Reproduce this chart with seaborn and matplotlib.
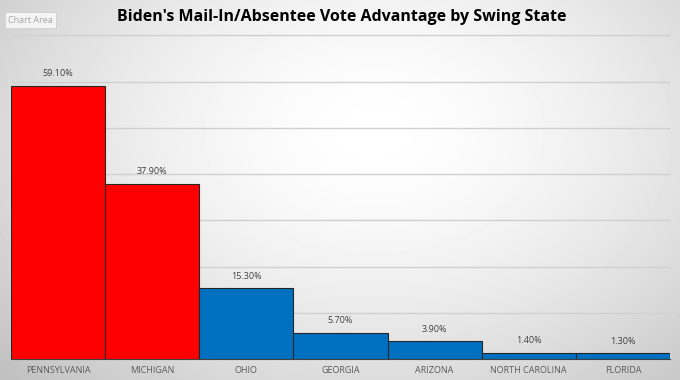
import numpy as np
import pandas as pd
import matplotlib
matplotlib.use("Agg")
import matplotlib.pyplot as plt
import seaborn as sns

states = ["PENNSYLVANIA", "MICHIGAN", "OHIO", "GEORGIA", "ARIZONA", "NORTH CAROLINA", "FLORIDA"]
advantage = [59.1, 37.9, 15.3, 5.7, 3.9, 1.4, 1.3]
bar_colors = ["#FF0000", "#FF0000", "#0070C0", "#0070C0", "#0070C0", "#0070C0", "#0070C0"]

df = pd.DataFrame({"state": states, "adv": advantage})

sns.set_style("white")
plt.rcParams["font.family"] = ["Open Sans", "DejaVu Sans"]

fig = plt.figure(figsize=(6.8, 3.8), dpi=100)

# radial gray gradient background
bg = fig.add_axes([0, 0, 1, 1], zorder=-10)
xx, yy = np.meshgrid(np.linspace(0, 1, 680), np.linspace(0, 1, 380))
r = np.sqrt(((xx - 0.55) / 0.75) ** 2 + ((yy - 0.35) / 0.95) ** 2)
shade = 1.0 - 0.25 * np.clip(r, 0, 1) ** 1.6
bg.imshow(shade, cmap="gray", vmin=0, vmax=1, aspect="auto", extent=[0, 1, 0, 1], origin="upper")
bg.axis("off")

ax = fig.add_axes([11 / 680, 21 / 380, 659 / 680, 325 / 380])
ax.set_facecolor("none")
sns.barplot(data=df, x="state", y="adv", hue="state", palette=bar_colors, legend=False,
            saturation=1, width=1.0, edgecolor="#262626", linewidth=0.8, ax=ax, zorder=3)

ax.set_ylim(0, 70.3)
ax.set_xlim(-0.5, len(states) - 0.5)
ax.set_yticks(np.arange(10, 71, 10))
ax.yaxis.grid(True, color="#d0d0d0", linewidth=1)
ax.set_axisbelow(True)
ax.tick_params(axis="y", left=False, labelleft=False)
ax.tick_params(axis="x", length=0, labelsize=6.5, labelcolor="#595959", pad=5)
for s in ["top", "right", "left"]:
    ax.spines[s].set_visible(False)
ax.spines["bottom"].set_color("#404040")
ax.set_xlabel("")
ax.set_ylabel("")

for i, v in enumerate(advantage):
    ax.text(i, v + 1.6, f"{v:.2f}%", ha="center", va="bottom", fontsize=6.5, color="#404040")

fig.text(0.503, 0.955, "Biden's Mail-In/Absentee Vote Advantage by Swing State",
         ha="center", va="center", fontsize=11.5, fontweight="bold", color="#000000")

fig.text(0.012, 0.947, "Chart Area", ha="left", va="center", fontsize=6.5, color="#a6a6a6",
         bbox=dict(boxstyle="square,pad=0.35", facecolor="#f4f4f4", edgecolor="#cfcfcf", linewidth=0.6))

fig.savefig("out.png", dpi=100)
